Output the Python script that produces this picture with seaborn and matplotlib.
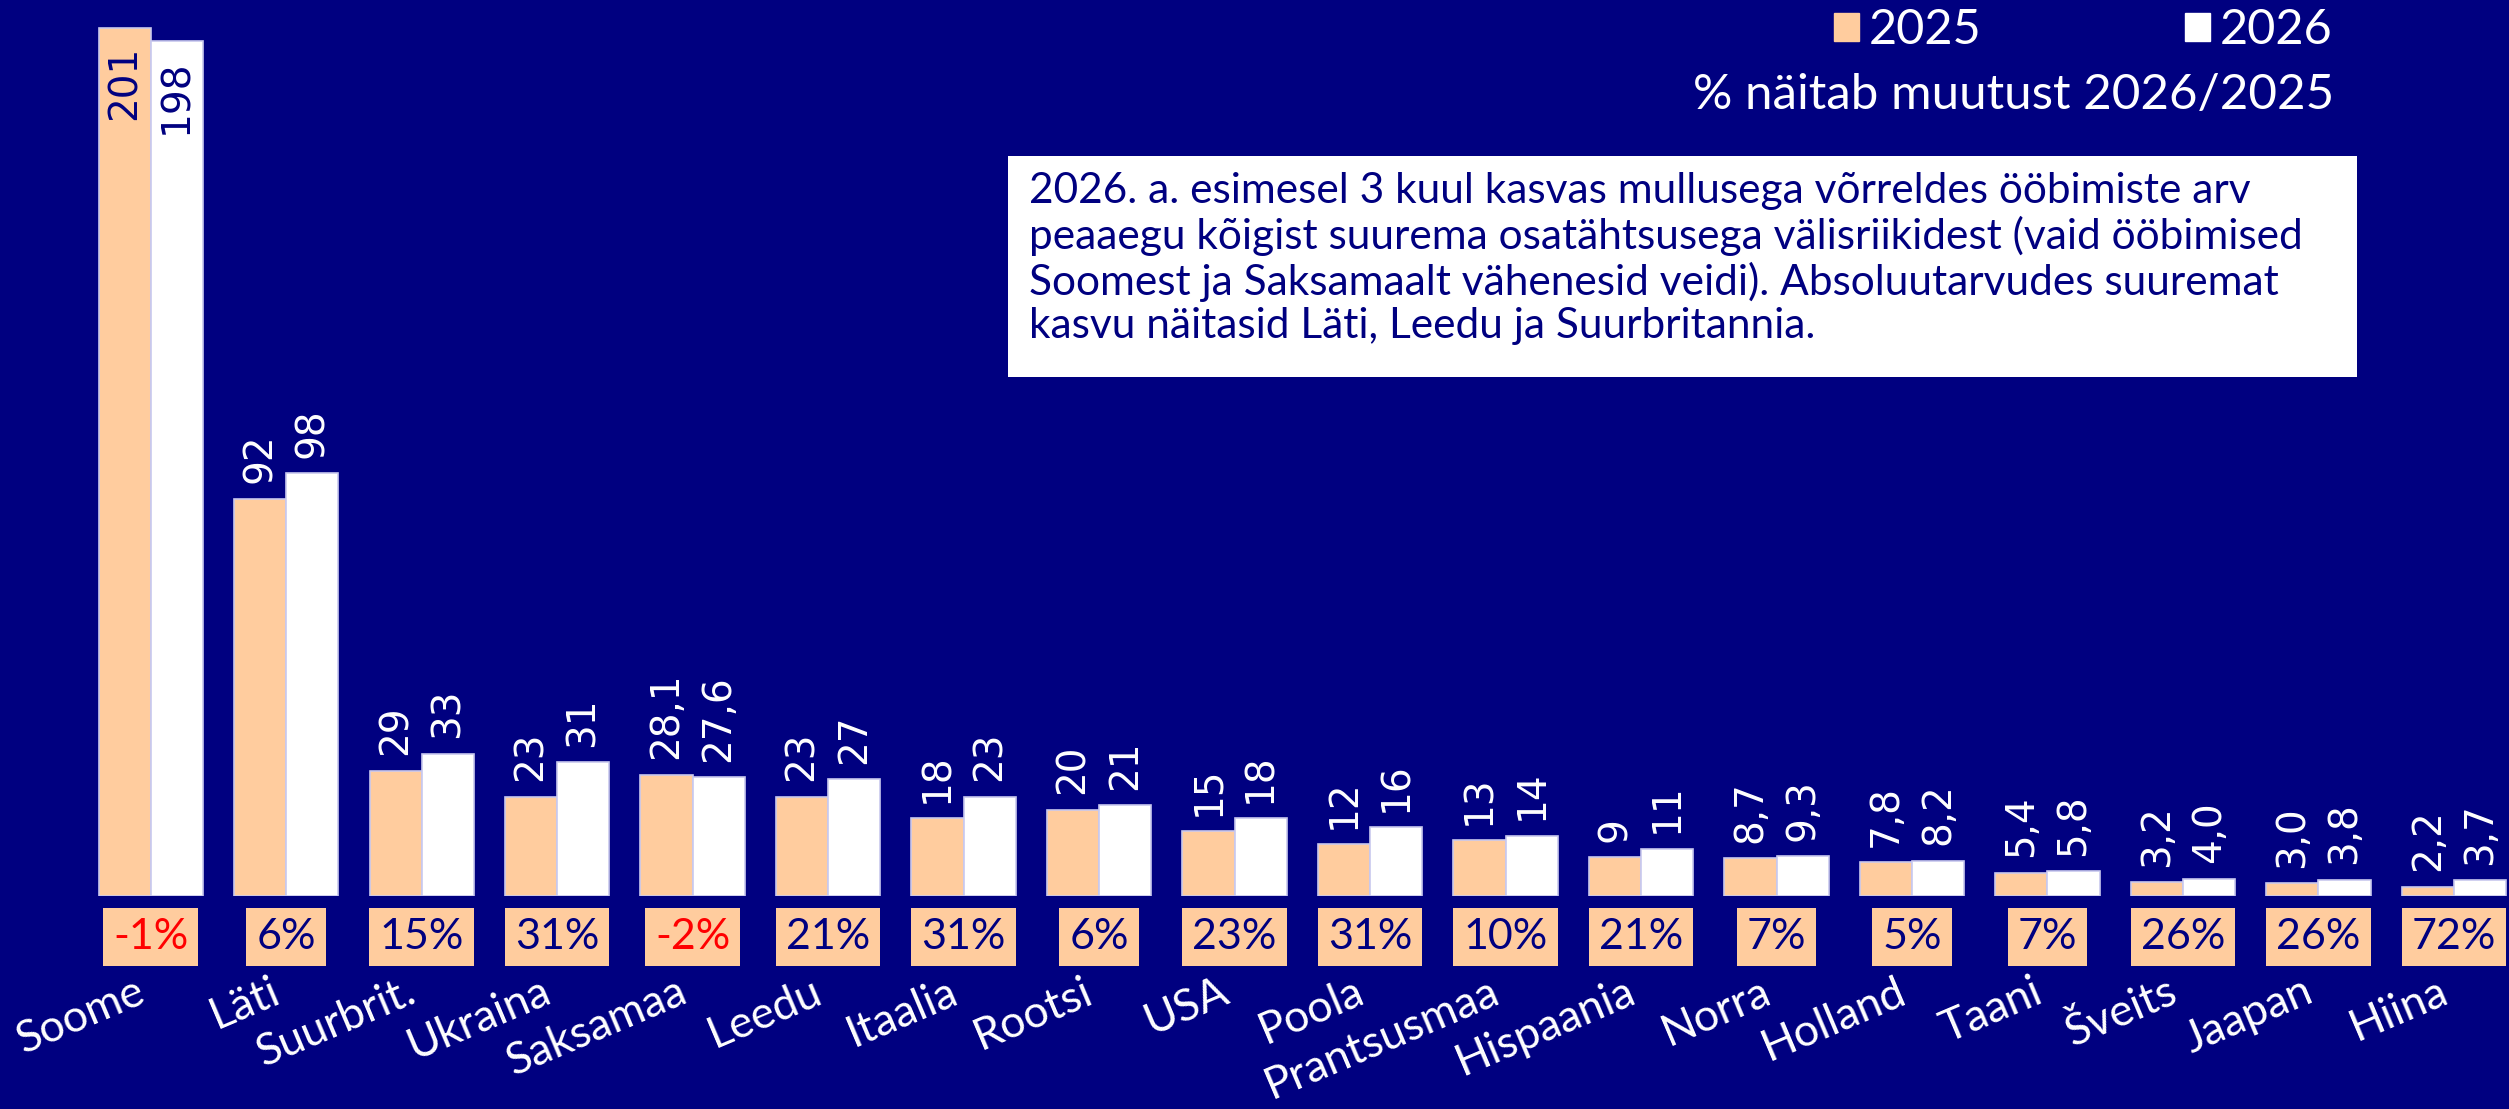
import numpy as np
import pandas as pd
import matplotlib
matplotlib.use("Agg")
import matplotlib.pyplot as plt
import matplotlib.patches as mpatches
import seaborn as sns

# data
countries = ["Soome", "Läti", "Suurbrit.", "Ukraina", "Saksamaa", "Leedu", "Itaalia",
             "Rootsi", "USA", "Poola", "Prantsusmaa", "Hispaania", "Norra", "Holland",
             "Taani", "Šveits", "Jaapan", "Hiina"]
values_2025 = [201, 92, 29, 23, 28.1, 23, 18, 20, 15, 12, 13, 9, 8.7, 7.8, 5.4, 3.2, 3.0, 2.2]
values_2026 = [198, 98, 33, 31, 27.6, 27, 23, 21, 18, 16, 14, 11, 9.3, 8.2, 5.8, 4.0, 3.8, 3.7]
labels_2025 = ["201", "92", "29", "23", "28,1", "23", "18", "20", "15", "12", "13", "9",
               "8,7", "7,8", "5,4", "3,2", "3,0", "2,2"]
labels_2026 = ["198", "98", "33", "31", "27,6", "27", "23", "21", "18", "16", "14", "11",
               "9,3", "8,2", "5,8", "4,0", "3,8", "3,7"]
change_pct = [-1, 6, 15, 31, -2, 21, 31, 6, 23, 31, 10, 21, 7, 5, 7, 26, 26, 72]
years = ["2025", "2026"]

note = ("2026. a. esimesel 3 kuul kasvas mullusega võrreldes ööbimiste arv\n"
        "peaaegu kõigist suurema osatähtsusega välisriikidest (vaid ööbimised\n"
        "Soomest ja Saksamaalt vähenesid veidi). Absoluutarvudes suuremat\n"
        "kasvu näitasid Läti, Leedu ja Suurbritannia.")

BG = "#000080"
PEACH = "#FFCC9E"
W, H = 2509, 1109

df = pd.DataFrame({
    "country": countries * 2,
    "year": [years[0]] * len(countries) + [years[1]] * len(countries),
    "value": values_2025 + values_2026,
})

fig = plt.figure(figsize=(W / 100, H / 100), dpi=100, facecolor=BG)
base_px = 896
ax = fig.add_axes([0, (H - base_px) / H, 1, base_px / H])
ax.set_facecolor(BG)

sns.barplot(data=df, x="country", y="value", hue="year",
            palette={"2025": PEACH, "2026": "white"}, width=0.768, saturation=1,
            edgecolor="#c8c8ee", linewidth=1.2, legend=False, ax=ax)

ax.set_xlim(-1.111, 17.406)
ax.set_ylim(0, 207.5)
for s in ax.spines.values():
    s.set_visible(False)
ax.set_yticks([])
ax.set_xlabel("")
ax.set_ylabel("")
ax.set_xticks(range(len(countries)))
ax.set_xticklabels(countries, rotation=23, ha="right", fontsize=32,
                   family="Lato", color="white")
ax.tick_params(axis="x", length=0, pad=54)

# value labels
for cont, labs in zip(ax.containers, [labels_2025, labels_2026]):
    for i, (bar, lab) in enumerate(zip(cont, labs)):
        x = bar.get_x() + bar.get_width() / 2
        h = bar.get_height()
        if i == 0:
            ax.annotate(lab, (x, h), xytext=(0, -13), textcoords="offset points",
                        rotation=90, ha="center", va="top", color=BG, fontsize=28)
        else:
            ax.annotate(lab, (x, h), xytext=(0, 11), textcoords="offset points",
                        rotation=90, ha="center", va="bottom", color="white", fontsize=28)

# percentage change boxes
for i, p in enumerate(change_pct):
    ax.text(i, -9.5, f"{p}%", ha="center", va="center", fontsize=31, family="Lato",
            color="red" if p < 0 else BG, clip_on=False,
            bbox=dict(boxstyle="square,pad=0.23", fc=PEACH, ec="none"))

# legend
handles = [mpatches.Patch(color=PEACH, label=years[0]),
           mpatches.Patch(color="white", label=years[1])]
fig.legend(handles=handles, loc="upper right", bbox_to_anchor=(2332 / W, 1 - 8 / H),
           ncol=2, frameon=False, borderpad=0, borderaxespad=0,
           handlelength=0.5, handleheight=0.5, handletextpad=0.2, columnspacing=4.2,
           prop={"family": "Lato", "size": 35}, labelcolor="white")
fig.text(2334 / W, 1 - 95 / H, "% näitab muutust 2026/2025", ha="right", va="center",
         fontsize=35.5, family="Lato", color="white")

# note box
fig.patches.append(mpatches.Rectangle((1008 / W, 1 - 377 / H), (2357 - 1008) / W,
                                      (377 - 156) / H, transform=fig.transFigure,
                                      fc="white", ec="none", zorder=1))
fig.text(1029 / W, 1 - 172 / H, note, ha="left", va="top", fontsize=30.5,
         family="Lato", color=BG, linespacing=1.17, zorder=2)

fig.savefig("out.png", dpi=100, facecolor=BG)
